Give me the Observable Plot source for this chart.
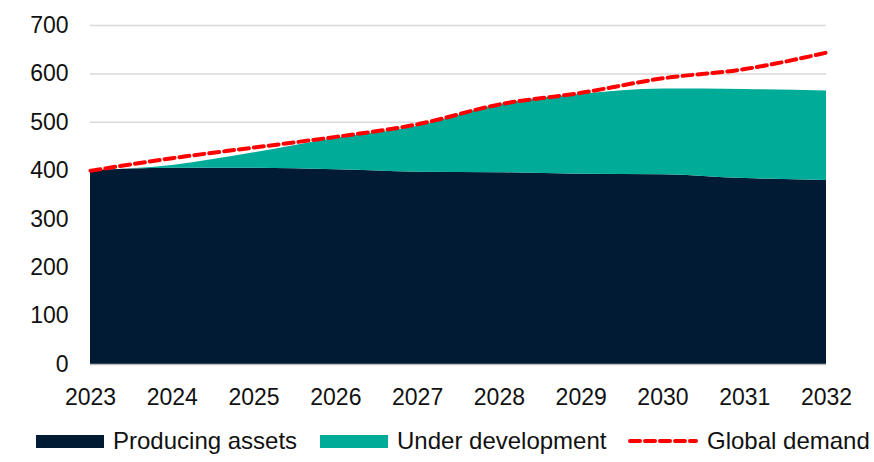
<!DOCTYPE html>
<html>
<head>
<meta charset="utf-8">
<script src="https://cdn.jsdelivr.net/npm/d3@7"></script>
<script src="https://cdn.jsdelivr.net/npm/@observablehq/plot@0.6"></script>
<style>
  body { margin: 0; background: #fff; font-family: "Liberation Sans", Arial, sans-serif; }
  #chart { position: relative; width: 874px; }
  #legend { position: relative; width: 874px; height: 42px; font-size: 24px; color: #111; }
  .item { position: absolute; top: 0; height: 42px; display: flex; align-items: center; }
  .sw { width: 68px; height: 13px; margin-right: 9px; }
  .dash { width: 70px; height: 4px; margin-right: 9px; }
</style>
</head>
<body>
<div id="chart"></div>
<div id="legend">
  <div class="item" style="left:36px"><div class="sw" style="background:#011b34"></div><span>Producing assets</span></div>
  <div class="item" style="left:320px"><div class="sw" style="background:#00ab98"></div><span>Under development</span></div>
  <div class="item" style="left:628px"><svg class="dash" width="70" height="4"><line x1="2" y1="2" x2="68" y2="2" stroke="#ff0000" stroke-width="4" stroke-dasharray="10,5" stroke-linecap="round"/></svg><span>Global demand</span></div>
</div>
<script>
const years = [2023, 2024, 2025, 2026, 2027, 2028, 2029, 2030, 2031, 2032];
const producingAssets = [400, 405, 405, 402, 397, 396, 393, 392, 384, 380];
const underDevelopment = [0, 6, 32, 65, 95, 141, 165, 177, 184, 185];
const globalDemand = [400, 426, 448, 470, 496, 537, 561, 591, 610, 644];
const yTicks = [0, 100, 200, 300, 400, 500, 600, 700];

const seriesNames = ["Producing assets", "Under development"];
const seriesColors = ["#011b34", "#00ab98"];

const stacked = [];
years.forEach((yr, i) => {
  stacked.push({year: yr, value: producingAssets[i], series: seriesNames[0]});
  stacked.push({year: yr, value: underDevelopment[i], series: seriesNames[1]});
});
const demand = years.map((yr, i) => ({year: yr, value: globalDemand[i]}));

const chart = Plot.plot({
  width: 874,
  height: 420,
  marginLeft: 90,
  marginRight: 48,
  marginTop: 25,
  marginBottom: 56,
  style: {fontFamily: "Liberation Sans, Arial, sans-serif", fontSize: "23px", color: "#111", background: "#fff"},
  x: {domain: [2023, 2032], ticks: years, tickFormat: d => String(d), tickSize: 0, tickPadding: 24, label: null},
  y: {domain: [0, 700], ticks: yTicks, tickSize: 0, tickPadding: 22, label: null},
  color: {domain: seriesNames, range: seriesColors},
  marks: [
    Plot.ruleY(yTicks.filter(d => d > 0), {stroke: "#d9d9d9", strokeWidth: 1.5}),
    Plot.areaY(stacked, {x: "year", y: "value", fill: "series", order: seriesNames, curve: "monotone-x"}),
    Plot.ruleY([0], {stroke: "#bfbfbf", strokeWidth: 1.5}),
    Plot.lineY(demand, {x: "year", y: "value", stroke: "#ff0000", strokeWidth: 4, strokeDasharray: "10,5", strokeLinecap: "round", curve: "monotone-x"})
  ]
});
document.getElementById("chart").appendChild(chart);
</script>
</body>
</html>
